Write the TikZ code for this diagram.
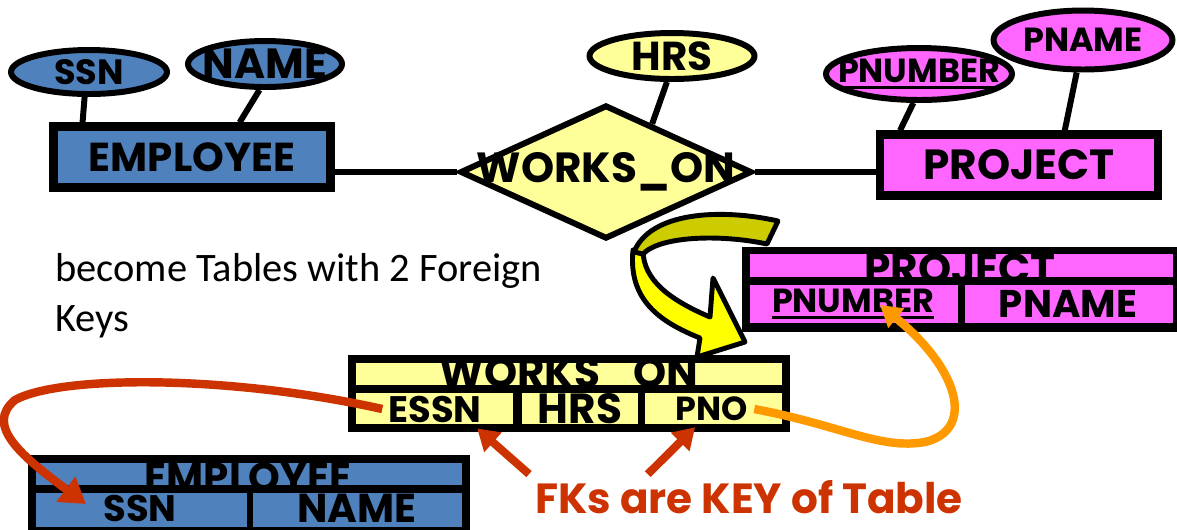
\documentclass[tikz,border=0pt]{standalone}
\usepackage{fontspec}
\setmainfont{Carlito}
\newfontfamily\comic{Poppins}
\usetikzlibrary{shapes.geometric,arrows.meta,calc}

\definecolor{empblue}{HTML}{4F81BD}
\definecolor{relyellow}{HTML}{FFFF99}
\definecolor{projpink}{HTML}{FF66FF}
\definecolor{arrowolive}{HTML}{CCCC00}
\definecolor{arrowyellow}{HTML}{FFFF00}
\definecolor{fkred}{HTML}{CC3300}
\definecolor{fkorange}{HTML}{FF9900}

\newcommand{\fsz}[1]{\fontsize{#1}{#1}\selectfont}
\newcommand{\keyul}[1]{\sbox0{#1}\rlap{\usebox0}\rule[-3.6pt]{\wd0}{1.8pt}}

\tikzset{
  attr/.style={ellipse, draw, line width=3.4pt, inner sep=0pt},
  entity/.style={rectangle, draw, line width=4.6pt, inner sep=0pt},
  link/.style={line width=3.4pt},
  fkarrow/.style={line width=4.8pt, -{Triangle[length=0.5cm,width=0.6cm]}},
  fksmall/.style={line width=4.6pt, fkred, -{Triangle[length=0.42cm,width=0.5cm]}},
}

\begin{document}
\begin{tikzpicture}[x=0.02cm,y=-0.02cm,font=\comic\bfseries]
\useasboundingbox (0,0) rectangle (1177,529);

\node[attr, fill=empblue, minimum width=3.12cm, minimum height=0.88cm] (ssn) at (89,72) {\makebox[0pt]{\fsz{20}SSN}};
\node[attr, fill=empblue, minimum width=3.08cm, minimum height=0.92cm] (name) at (265,64) {\makebox[0pt]{\fsz{24}NAME}};
\node[entity, fill=empblue, minimum width=5.54cm, minimum height=1.22cm] (emp) at (192,157) {\fsz{23}EMPLOYEE};

\node[diamond, draw, line width=3.4pt, fill=relyellow, inner sep=0pt, minimum width=5.84cm, minimum height=2.68cm] (works) at (606,172) {\makebox[0pt]{\fsz{24}WORKS\_ON}};
\node[attr, fill=relyellow, minimum width=3.3cm, minimum height=0.92cm] (hrs) at (672,56) {\makebox[0pt]{\fsz{23}HRS}};

\node[entity, fill=projpink, minimum width=5.56cm, minimum height=1.22cm] (proj) at (1019,165) {\fsz{24}PROJECT};
\node[attr, fill=projpink, minimum width=3.58cm, minimum height=1.18cm] (pname) at (1083,40) {\makebox[0pt]{\fsz{19}PNAME}};
\node[attr, fill=projpink, minimum width=3.72cm, minimum height=1.04cm] (pnum) at (919,74) {\makebox[0pt]{\fsz{19}\keyul{PNUMBER}}};

\draw[link] (ssn.260) -- ($(emp.north west)!0.116!(emp.north east)$);
\draw[link] (name.258) -- ($(emp.north west)!0.667!(emp.north east)$);
\draw[link] (works.west) -- (works.west -| emp.east);
\draw[link] (hrs.259) -- ($(works.north)!0.31!(works.east)$);
\draw[link] (works.east) -- (works.east -| proj.west);
\draw[link] (pnum.259) -- ($(proj.north west)!0.084!(proj.north east)$);
\draw[link] (pname.259) -- ($(proj.north west)!0.66!(proj.north east)$);

\node[anchor=base west, inner sep=0pt, font=\normalfont\fsz{23}] (note1) at (55,281) {become Tables with 2 Foreign};
\node[anchor=base west, inner sep=0pt, font=\normalfont\fsz{23}] (note2) at (55,331) {Keys};

\draw[line width=2.8pt, line join=round, fill=arrowyellow] (633,250) .. controls (628,300) and (660,322) .. (700,338) -- (697,357) -- (745,342) -- (713,278) -- (710,317) .. controls (670,300) and (643,280) .. (643,250) -- cycle;
\draw[line width=2.8pt, line join=round, fill=arrowolive] (778,221) .. controls (720,208) and (650,212) .. (634,252) -- (643,254) .. controls (660,236) and (720,234) .. (767,244) -- cycle;

\fill (742,247) rectangle (1181,332);
\fill[projpink] (750,254) rectangle (1173,277);
\fill[projpink] (750,285) rectangle (958,323);
\fill[projpink] (965,285) rectangle (1173,323);
\begin{scope}
\clip (750,254) rectangle (1173,277);
\node[inner sep=0pt] (ptitle) at (960,269) {\fsz{24}PROJECT};
\end{scope}
\node (tpnum) at (853,304) {\fsz{19}\keyul{PNUMBER}};
\node (tpname) at (1068,304) {\fsz{22}PNAME};

\fill (348,355) rectangle (790,432);
\fill[relyellow] (356,363) rectangle (782,385);
\fill[relyellow] (356,393) rectangle (513,424);
\fill[relyellow] (522,393) rectangle (638,424);
\fill[relyellow] (645,393) rectangle (782,424);
\begin{scope}
\clip (356,363) rectangle (782,385);
\node[inner sep=0pt] (wtitle) at (569,377) {\fsz{24}WORKS\_ON};
\end{scope}
\node (tessn) at (435,409) {\fsz{21}ESSN};
\node (thrs) at (580,409) {\fsz{24}HRS};
\node (tpno) at (712,409) {\fsz{19}PNO};

\fill (28,455) rectangle (470,535);
\fill[empblue] (36,463) rectangle (462,485);
\fill[empblue] (36,493) rectangle (247,527);
\fill[empblue] (253,493) rectangle (462,527);
\begin{scope}
\clip (36,463) rectangle (462,485);
\node[inner sep=0pt] (etitle) at (248,477) {\fsz{23}EMPLOYEE};
\end{scope}
\node[inner sep=1pt] (tssn) at (140,508) {\fsz{21}SSN};
\node[inner sep=1pt] (tname) at (357,508) {\fsz{23}NAME};

\node[text=fkred] (fktext) at (749,497) {\fsz{24}FKs are KEY of Table};

\coordinate (pnumkey) at (880,305);
\coordinate (ssnkey) at (86,504);
\draw[fkarrow, fkred] (tessn.west) .. controls (230,375) and (60,375) .. (15,400) .. controls (-15,425) and (20,455) .. (ssnkey);
\draw[fkarrow, fkorange, -{Triangle[length=0.42cm,width=0.48cm]}] (tpno.east) .. controls (840,425) and (880,450) .. (925,442) .. controls (975,430) and (960,370) .. (pnumkey);
\draw[fksmall] (fktext.north west) -- ($(tessn.south west)!0.9!(tessn.south east)$);
\draw[fksmall] ($(fktext.north west)!0.27!(fktext.north east)$) -- ($(tpno.south west)!0.3!(tpno.south east)$);
\end{tikzpicture}
\end{document}
